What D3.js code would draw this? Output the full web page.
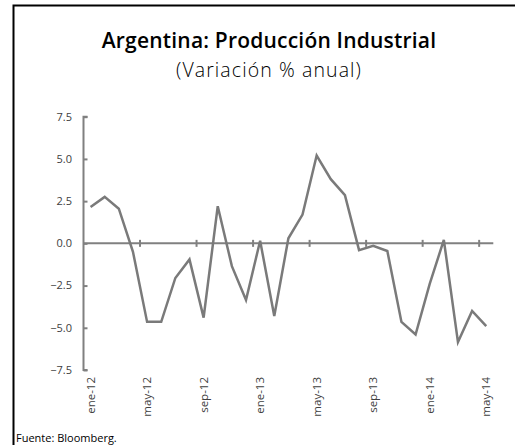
<!DOCTYPE html>
<html>
<head>
<meta charset="utf-8">
<script src="https://cdn.jsdelivr.net/npm/d3@7"></script>
<style>
  html, body { margin: 0; padding: 0; background: #fff; overflow: hidden; }
  svg { display: block; font-family: "Open Sans", sans-serif; }
</style>
</head>
<body>
<svg id="chart" width="515" height="445"></svg>
<script>
// meses (categorías)
const months = [
  "ene-12", "feb-12", "mar-12", "abr-12", "may-12", "jun-12", "jul-12", "ago-12",
  "sep-12", "oct-12", "nov-12", "dic-12", "ene-13", "feb-13", "mar-13", "abr-13",
  "may-13", "jun-13", "jul-13", "ago-13", "sep-13", "oct-13", "nov-13", "dic-13",
  "ene-14", "feb-14", "mar-14", "abr-14", "may-14"
];
// variación % anual
const values = [
  2.15, 2.75, 2.05, -0.5, -4.65, -4.65, -2.05, -0.95,
  -4.4, 2.2, -1.35, -3.35, 0.15, -4.3, 0.3, 1.7,
  5.2, 3.8, 2.85, -0.4, -0.15, -0.45, -4.65, -5.4,
  -2.4, 0.2, -5.85, -4.0, -4.9
];
const yTicks = [-7.5, -5, -2.5, 0, 2.5, 5, 7.5];
const labelEvery = 4;

const svg = d3.select("#chart");
const axisColor = "#808080";
const lineColor = "#7a7a7a";
const textColor = "#404040";

// marco (solo arriba e izquierda quedan dentro)
svg.append("path")
  .attr("d", "M13.5,445V5.5H515")
  .attr("fill", "none")
  .attr("stroke", "#000")
  .attr("stroke-width", 2);

// títulos
svg.append("text")
  .attr("x", 269).attr("y", 48)
  .attr("text-anchor", "middle")
  .attr("font-size", 21)
  .attr("font-weight", 600)
  .attr("letter-spacing", 0.2)
  .attr("fill", "#000")
  .text("Argentina: Producción Industrial");

svg.append("text")
  .attr("x", 269).attr("y", 77)
  .attr("text-anchor", "middle")
  .attr("font-size", 19.5)
  .attr("font-weight", 300)
  .attr("letter-spacing", 1.1)
  .attr("fill", "#000")
  .text("(Variación % anual)");

// escalas
const x = d3.scaleBand().domain(months).range([83.5, 493.3]).padding(0);
const y = d3.scaleLinear().domain([-7.5, 7.5]).range([370, 116.7]);

// eje Y
const yAxis = svg.append("g")
  .attr("transform", "translate(83.5,0)")
  .call(d3.axisRight(y).tickValues(yTicks).tickSize(4).tickFormat(""));
yAxis.select(".domain").attr("stroke", axisColor).attr("stroke-width", 2)
  .attr("d", `M4,${y(7.5)}H0V${y(-7.5)}H4`);
yAxis.selectAll(".tick line").attr("stroke", axisColor).attr("stroke-width", 2);

svg.append("g").selectAll("text")
  .data(yTicks)
  .enter().append("text")
  .attr("x", 72)
  .attr("y", d => y(d))
  .attr("dy", "0.35em")
  .attr("text-anchor", "end")
  .attr("font-size", 11)
  .attr("fill", textColor)
  .text(d => d3.format(".1f")(d));

// eje X en cero
const y0 = y(0);
svg.append("line")
  .attr("x1", x.range()[0]).attr("x2", x.range()[1])
  .attr("y1", y0).attr("y2", y0)
  .attr("stroke", axisColor).attr("stroke-width", 2);

// marcas entre categorías cada 4 meses
const tickIdx = d3.range(labelEvery, months.length, labelEvery);
svg.append("g").selectAll("line")
  .data(tickIdx)
  .enter().append("line")
  .attr("x1", i => x(months[i]))
  .attr("x2", i => x(months[i]))
  .attr("y1", y0 - 3.5).attr("y2", y0 + 3.5)
  .attr("stroke", axisColor).attr("stroke-width", 2);

// etiquetas rotadas
const labelIdx = d3.range(0, months.length, labelEvery);
svg.append("g").selectAll("text")
  .data(labelIdx)
  .enter().append("text")
  .attr("transform", i => `translate(${x(months[i]) + x.bandwidth() / 2 + 4},377) rotate(-90)`)
  .attr("text-anchor", "end")
  .attr("font-size", 11.5)
  .attr("fill", textColor)
  .text(i => months[i]);

// línea
const line = d3.line()
  .x((d, i) => x(months[i]) + x.bandwidth() / 2)
  .y(d => y(d));

svg.append("path")
  .datum(values)
  .attr("fill", "none")
  .attr("stroke", lineColor)
  .attr("stroke-width", 2.5)
  .attr("stroke-linejoin", "miter")
  .attr("d", line);

// fuente
svg.append("text")
  .attr("x", 16).attr("y", 442)
  .attr("font-size", 11)
  .attr("fill", "#000")
  .text("Fuente: Bloomberg.");
</script>
</body>
</html>
